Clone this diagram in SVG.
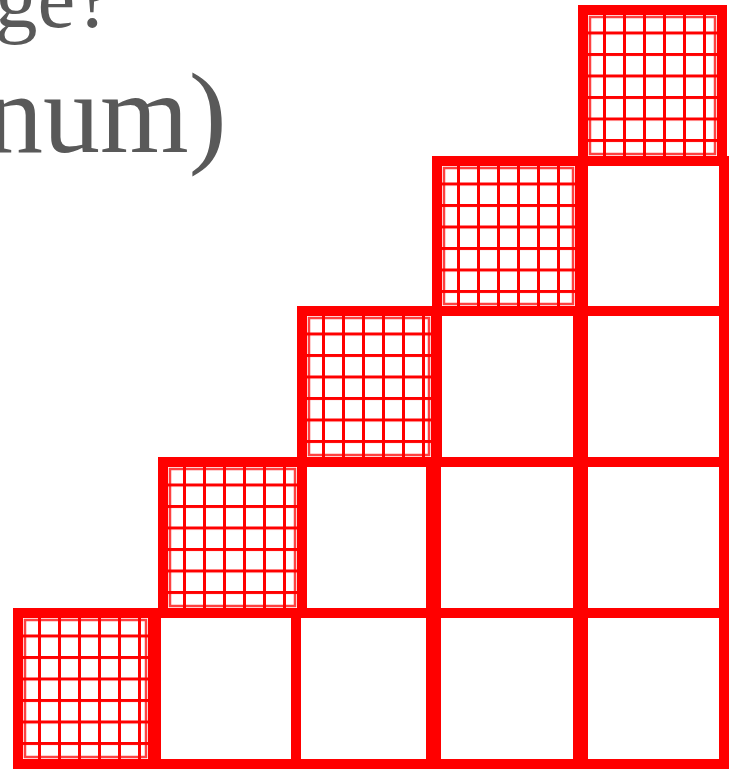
<svg xmlns="http://www.w3.org/2000/svg" width="733" height="769" viewBox="0 0 733 769">
<style>
.cell{fill:#fff;stroke:#ff0000;stroke-width:10}
.hatch{fill:url(#grid);stroke:none}
.inner{fill:none;stroke:#ff0000;stroke-width:2.5;stroke-opacity:0.75}
.txt{font-family:"Liberation Serif","Times New Roman",serif;fill:#595959}
</style>
<defs>
<pattern id="grid" patternUnits="userSpaceOnUse" x="0" y="0" width="20" height="21.5">
<line x1="1.5" y1="0" x2="1.5" y2="21.5" stroke="#ff0000" stroke-width="3"/>
<line x1="0" y1="1.5" x2="20" y2="1.5" stroke="#ff0000" stroke-width="3"/>
</pattern>
</defs>
<rect width="733" height="769" fill="#fff"/>
<text class="txt" x="-5" y="27" font-size="85">ge?</text>
<text class="txt" x="-14" y="152" font-size="114">num)</text>
<g id="plain-cells">
<rect class="cell" x="156" y="613" width="140" height="151"/>
<rect class="cell" x="296" y="613" width="135" height="151"/>
<rect class="cell" x="436" y="613" width="142" height="151"/>
<rect class="cell" x="583" y="613" width="141" height="151"/>
<rect class="cell" x="302" y="462" width="129" height="151"/>
<rect class="cell" x="436" y="462" width="142" height="151"/>
<rect class="cell" x="583" y="462" width="141" height="151"/>
<rect class="cell" x="437" y="311" width="141" height="151"/>
<rect class="cell" x="583" y="311" width="141" height="151"/>
<rect class="cell" x="583" y="161" width="141" height="150"/>
</g>
<g id="hatched-0" transform="translate(18,613)">
<rect class="cell" x="0" y="0" width="135" height="151"/>
<rect class="hatch" x="5" y="5" width="125" height="141"/>
<rect class="inner" x="7" y="7" width="121" height="137"/>
</g>
<g id="hatched-1" transform="translate(163,462)">
<rect class="cell" x="0" y="0" width="139" height="151"/>
<rect class="hatch" x="5" y="5" width="129" height="141"/>
<rect class="inner" x="7" y="7" width="125" height="137"/>
</g>
<g id="hatched-2" transform="translate(302,311)">
<rect class="cell" x="0" y="0" width="134" height="151"/>
<rect class="hatch" x="5" y="5" width="124" height="141"/>
<rect class="inner" x="7" y="7" width="120" height="137"/>
</g>
<g id="hatched-3" transform="translate(437,161)">
<rect class="cell" x="0" y="0" width="143" height="150"/>
<rect class="hatch" x="5" y="5" width="133" height="140"/>
<rect class="inner" x="7" y="7" width="129" height="136"/>
</g>
<g id="hatched-4" transform="translate(583,10)">
<rect class="cell" x="0" y="0" width="139" height="151"/>
<rect class="hatch" x="5" y="5" width="129" height="141"/>
<rect class="inner" x="7" y="7" width="125" height="137"/>
</g>
</svg>
